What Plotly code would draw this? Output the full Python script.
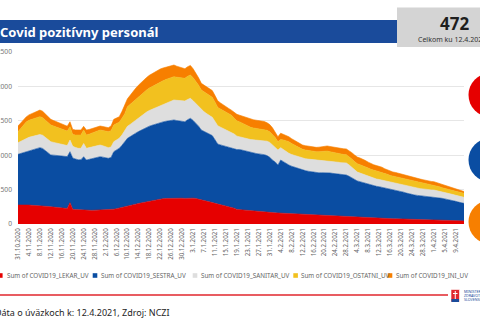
import pandas as pd
import plotly.graph_objects as go

# Daily counts of COVID-positive staff by profession, 31.10.2020 - 12.4.2021
start_date = "2020-10-31"

lekar = [
    276, 278, 275, 273, 275, 272, 270, 271, 270, 268,
    262, 255, 250, 246, 240, 236, 232, 228, 225, 310,
    215, 210, 206, 203, 205, 203, 200, 198, 199, 201,
    200, 202, 204, 205, 208, 215, 222, 230, 240, 250,
    260, 270, 280, 288, 298, 306, 320, 328, 338, 345,
    352, 360, 364, 368, 371, 373, 375, 376, 374, 375,
    375, 372, 376, 378, 376, 370, 362, 355, 345, 335,
    322, 312, 300, 290, 280, 270, 262, 255, 248, 230,
    212, 208, 203, 198, 192, 188, 184, 180, 177, 175,
    172, 169, 166, 164, 162, 160, 158, 156, 154, 152,
    150, 148, 146, 143, 141, 138, 135, 132, 128, 125,
    122, 120, 118, 115, 112, 110, 110, 108, 107, 106,
    106, 104, 101, 98, 96, 95, 93, 91, 89, 88,
    86, 85, 83, 82, 80, 79, 77, 76, 75, 74,
    73, 72, 71, 70, 69, 68, 66, 64, 63, 61,
    60, 59, 58, 56, 55, 53, 51, 50, 49, 48,
    47, 46, 45, 45,
]

sestra = [
    737, 748, 762, 775, 790, 805, 815, 825, 840, 830,
    805, 775, 753, 755, 758, 760, 762, 760, 755, 741,
    745, 735, 728, 732, 773, 727, 740, 752, 765, 772,
    778, 770, 760, 750, 760, 836, 855, 870, 905, 946,
    985, 1000, 1020, 1032, 1045, 1058, 1070, 1076, 1084, 1090,
    1097, 1103, 1110, 1116, 1122, 1128, 1132, 1136, 1130, 1125,
    1120, 1115, 1140, 1158, 1130, 1100, 1060, 1011, 1000, 990,
    980, 973, 925, 872, 870, 868, 866, 865, 864, 868,
    870, 875, 870, 862, 855, 850, 847, 845, 842, 840,
    836, 825, 805, 765, 740, 697, 772, 750, 725, 705,
    690, 678, 665, 655, 644, 638, 632, 628, 624, 620,
    622, 626, 630, 632, 630, 626, 620, 615, 610, 608,
    606, 590, 570, 550, 530, 520, 510, 498, 486, 475,
    468, 463, 459, 452, 443, 435, 428, 423, 419, 410,
    400, 390, 378, 367, 358, 353, 350, 347, 345, 342,
    340, 339, 339, 335, 328, 320, 314, 308, 300, 292,
    282, 272, 263, 255,
]

sanitar = [
    169, 178, 188, 195, 195, 193, 192, 191, 190, 192,
    193, 194, 193, 185, 178, 172, 166, 160, 160, 169,
    170, 168, 166, 165, 192, 170, 168, 168, 169, 170,
    170, 165, 160, 155, 150, 145, 145, 145, 150, 154,
    175, 178, 180, 190, 200, 210, 218, 223, 228, 233,
    238, 242, 250, 258, 266, 275, 283, 291, 294, 297,
    299, 300, 295, 290, 285, 280, 285, 290, 285, 278,
    270, 266, 266, 266, 258, 250, 242, 235, 227, 210,
    195, 183, 185, 187, 189, 190, 192, 193, 196, 200,
    205, 210, 215, 220, 220, 218, 180, 176, 173, 170,
    170, 170, 170, 170, 170, 173, 176, 179, 182, 185,
    183, 181, 179, 177, 175, 175, 175, 175, 175, 175,
    175, 165, 150, 138, 130, 125, 122, 118, 114, 110,
    108, 106, 105, 104, 103, 102, 101, 100, 100, 101,
    102, 103, 104, 105, 105, 105, 104, 103, 102, 100,
    99, 98, 97, 95, 93, 91, 89, 88, 88, 88,
    88, 88, 88, 88,
]

ostatni = [
    159, 185, 215, 241, 248, 252, 255, 258, 260, 255,
    250, 246, 242, 238, 233, 228, 223, 218, 210, 194,
    170, 180, 188, 193, 196, 193, 198, 204, 210, 214,
    218, 222, 226, 230, 236, 242, 238, 235, 242, 250,
    285, 292, 300, 304, 308, 312, 315, 320, 325, 330,
    335, 339, 339, 340, 340, 339, 339, 339, 336, 334,
    332, 330, 335, 339, 335, 330, 310, 291, 291, 291,
    291, 291, 280, 267, 262, 257, 252, 248, 243, 230,
    222, 218, 205, 195, 185, 178, 173, 170, 168, 165,
    162, 158, 154, 150, 135, 121, 120, 140, 158, 169,
    160, 150, 142, 136, 130, 127, 125, 123, 122, 121,
    124, 128, 132, 136, 134, 130, 127, 124, 122, 121,
    121, 123, 124, 122, 120, 121, 123, 125, 124, 122,
    121, 120, 121, 118, 112, 106, 100, 98, 97, 97,
    97, 97, 97, 97, 97, 97, 94, 90, 86, 82,
    78, 75, 73, 70, 66, 63, 60, 58, 58, 58,
    58, 58, 58, 58,
]

ini = [
    83, 80, 76, 73, 78, 84, 88, 92, 96, 93,
    90, 86, 83, 80, 78, 75, 73, 72, 72, 72,
    75, 74, 73, 73, 54, 73, 68, 64, 61, 59,
    58, 58, 59, 60, 70, 83, 81, 79, 100, 120,
    115, 130, 150, 158, 165, 172, 180, 183, 186, 189,
    192, 194, 190, 185, 180, 175, 172, 169, 160, 150,
    145, 140, 140, 140, 130, 120, 108, 97, 97, 97,
    97, 97, 96, 95, 90, 85, 80, 76, 72, 85,
    95, 97, 105, 110, 115, 118, 120, 121, 120, 118,
    115, 110, 105, 100, 85, 72, 90, 82, 76, 72,
    70, 68, 66, 65, 63, 63, 63, 63, 63, 63,
    66, 69, 72, 74, 76, 78, 80, 81, 82, 83,
    83, 88, 92, 95, 97, 98, 95, 90, 86, 82,
    78, 75, 73, 70, 66, 62, 60, 59, 58, 56,
    54, 52, 50, 49, 49, 49, 49, 49, 48, 48,
    48, 48, 48, 46, 44, 42, 40, 38, 36, 34,
    32, 30, 28, 26,
]

series_names = [
    "Sum of COVID19_LEKAR_UV",
    "Sum of COVID19_SESTRA_UV",
    "Sum of COVID19_SANITAR_UV",
    "Sum of COVID19_OSTATNI_UV",
    "Sum of COVID19_INI_UV",
]
series_colors = ["#E60000", "#0A4DA2", "#DEDEDE", "#F2C11F", "#F77F00"]
series_values = [lekar, sestra, sanitar, ostatni, ini]

y_ticks = [0, 500, 1000, 1500, 2000, 2500]

dates = pd.date_range(start_date, periods=len(lekar), freq="D")
tick_dates = dates[::4]
tick_labels = [f"{d.day}.{d.month}.{d.year}" for d in tick_dates]

total_last = sum(s[-1] for s in series_values)
last_label = f"{dates[-1].day}.{dates[-1].month}.{dates[-1].year}"

# Canvas / plot-area geometry in pixels
W, H = 480, 323
ML, MR, MT, MB = 18, 16, 52, 99
PW, PH = W - ML - MR, H - MT - MB


def px(x):
    return (x - ML) / PW


def py(y):
    return (H - MB - y) / PH


FONT = "Noto Sans"

fig = go.Figure()
for name, vals, color in zip(series_names, series_values, series_colors):
    fig.add_trace(go.Scatter(
        x=dates, y=vals, name=name, stackgroup="one", mode="lines",
        line=dict(width=0.6, color=color), fillcolor=color,
        hoverinfo="skip",
    ))

shapes = []
annotations = []

# Title bar
shapes.append(dict(type="rect", xref="paper", yref="paper",
                   x0=px(-5), x1=px(397), y0=py(43), y1=py(20),
                   fillcolor="#1A4B9B", line=dict(width=0), layer="above"))
annotations.append(dict(xref="paper", yref="paper", x=px(-2.5), y=py(31.5),
                        xanchor="left", yanchor="middle", showarrow=False,
                        text="<b>Covid pozitívny personál</b>",
                        font=dict(family=FONT, size=13, color="white")))

# Total card
shapes.append(dict(type="rect", xref="paper", yref="paper",
                   x0=px(397), x1=px(490), y0=py(47), y1=py(7.5),
                   fillcolor="#D4D4D4", line=dict(width=0), layer="above"))
annotations.append(dict(xref="paper", yref="paper", x=px(454), y=py(24),
                        xanchor="center", yanchor="middle", showarrow=False,
                        text=f"<b>{total_last}</b>",
                        font=dict(family=FONT, size=17, color="#1E1E1E")))
annotations.append(dict(xref="paper", yref="paper", x=px(416), y=py(39.5),
                        xanchor="left", yanchor="middle", showarrow=False,
                        text=f"Celkom ku {last_label}",
                        font=dict(family=FONT, size=7, color="#333333")))

# Side indicator circles
for cy, r, col in [(95, 22, "#E60000"), (160, 22, "#0A4DA2"), (222, 22, "#F77F00")]:
    cx = 468.5 + r
    shapes.append(dict(type="circle", xref="paper", yref="paper",
                       x0=px(cx - r), x1=px(cx + r), y0=py(cy + r), y1=py(cy - r),
                       fillcolor=col, line=dict(width=0), layer="above"))

# Legend
legend_pos = [(-2, 5), (92.7, 98.7), (192.7, 198.7), (293.3, 299.3), (387.7, 393.7)]
for (sx, tx), name, col in zip(legend_pos, series_names, series_colors):
    shapes.append(dict(type="rect", xref="paper", yref="paper",
                       x0=px(sx), x1=px(sx + 4.6), y0=py(277.8), y1=py(273.2),
                       fillcolor=col, line=dict(width=0)))
    annotations.append(dict(xref="paper", yref="paper", x=px(tx), y=py(275.6),
                            xanchor="left", yanchor="middle", showarrow=False,
                            text=name, font=dict(family=FONT, size=6.3, color="#666666")))

# Footer rule
shapes.append(dict(type="line", xref="paper", yref="paper",
                   x0=px(0), x1=px(448), y0=py(295), y1=py(295),
                   line=dict(color="#E0262D", width=1.5)))

# Ministry emblem
shapes.append(dict(type="rect", xref="paper", yref="paper",
                   x0=px(451), x1=px(459.5), y0=py(302), y1=py(289.5),
                   fillcolor="#E0262D", line=dict(width=0.6, color="white")))
shapes.append(dict(type="rect", xref="paper", yref="paper",
                   x0=px(451.5), x1=px(459), y0=py(302), y1=py(299),
                   fillcolor="#1A4B9B", line=dict(width=0)))
shapes.append(dict(type="line", xref="paper", yref="paper",
                   x0=px(455.25), x1=px(455.25), y0=py(299), y1=py(291),
                   line=dict(color="white", width=1)))
shapes.append(dict(type="line", xref="paper", yref="paper",
                   x0=px(453), x1=px(457.5), y0=py(293.5), y1=py(293.5),
                   line=dict(color="white", width=1)))
for i, word in enumerate(["MINISTERSTVO", "ZDRAVOTNÍCTVA", "SLOVENSKEJ REPUBLIKY"]):
    annotations.append(dict(xref="paper", yref="paper", x=px(462), y=py(291 + 4 * i),
                            xanchor="left", yanchor="middle", showarrow=False,
                            text=word, font=dict(family=FONT, size=3.6, color="#1A4B9B")))

# Source note
annotations.append(dict(xref="paper", yref="paper", x=px(-7.5), y=py(312),
                        xanchor="left", yanchor="middle", showarrow=False,
                        text="Dáta o úväzkoch k: 12.4.2021, Zdroj: NCZI",
                        font=dict(family=FONT, size=9, color="#252525")))

fig.update_layout(
    width=W, height=H,
    margin=dict(l=ML, r=MR, t=MT, b=MB, pad=0, autoexpand=False),
    paper_bgcolor="white", plot_bgcolor="white",
    showlegend=False,
    font=dict(family=FONT),
    shapes=shapes, annotations=annotations,
    xaxis=dict(
        type="date", range=[dates[0], dates[-1]], automargin=False,
        tickmode="array", tickvals=list(tick_dates), ticktext=tick_labels,
        tickangle=-90, tickfont=dict(family=FONT, size=6.2, color="#666666"),
        showgrid=False, zeroline=False, showline=False, ticks="",
        ticklabelstandoff=2,
    ),
    yaxis=dict(
        range=[0, 2500], tickmode="array", tickvals=y_ticks, automargin=False,
        tickfont=dict(family=FONT, size=6.7, color="#777777"),
        gridcolor="#E6E6E6", gridwidth=1, zeroline=False, showline=False,
        ticks="", ticklabelstandoff=5,
    ),
)

fig.write_html("out.html")
